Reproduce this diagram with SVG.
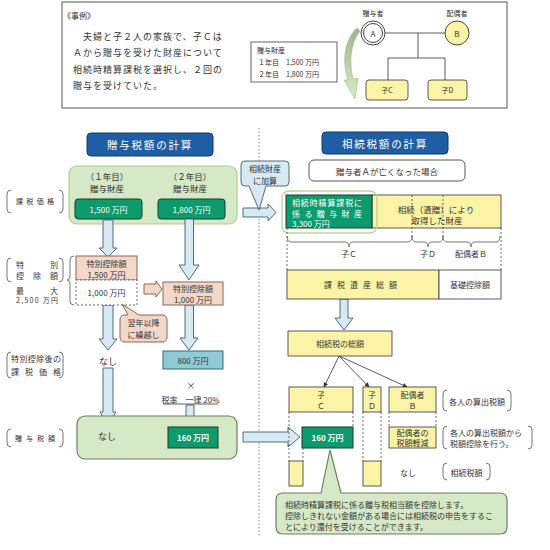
<svg xmlns="http://www.w3.org/2000/svg" width="550" height="550" viewBox="0 0 550 550">
<defs>
<style>
text{font-family:"Noto Sans CJK JP","Noto Sans",sans-serif;fill:#333;dominant-baseline:central}
.t9{font-size:9px}.t8{font-size:8px}.t7{font-size:7px}.t85{font-size:8.5px}
.mid{text-anchor:middle}
.w{fill:#fff}
.b{font-weight:bold}
.dg{fill:#0d9b6d;stroke:#1d3b2d;stroke-width:1}
.lg{fill:#d6e9c6;stroke:#aad08c;stroke-width:1.2}
.lg2{fill:#d6e9c6;stroke:#6f7f64;stroke-width:1.2}
.ba{fill:#d7eaf3;stroke:#3f5d6d;stroke-width:0.9}
.sal{fill:#f3d7c9;stroke:#8a6757;stroke-width:1}
.yel{fill:#fbf3a5;stroke:#333;stroke-width:0.8}
.hdr{fill:#1f5da4;stroke:#0f3a6e;stroke-width:1}
.br{fill:none;stroke:#666;stroke-width:0.9}
.dash{fill:none;stroke:#444;stroke-width:0.8;stroke-dasharray:2 2}
.dot{fill:none;stroke:#888;stroke-width:1;stroke-dasharray:1.5 2}
.ln{fill:none;stroke:#333;stroke-width:0.8}
</style>
<marker id="ah" viewBox="0 0 10 10" refX="9" refY="5" markerWidth="6" markerHeight="6" orient="auto"><path d="M0,0 L10,5 L0,10 Z" fill="#333"/></marker>
<linearGradient id="garr" x1="0" y1="0" x2="0" y2="1"><stop offset="0" stop-color="#9fb394"/><stop offset="1" stop-color="#d8ecc6"/></linearGradient>
</defs>

<!-- Example box -->
<g id="example">
<rect x="62" y="2" width="445" height="106" fill="#fff" stroke="#555" stroke-width="1"/>
<text x="63" y="15" class="t8">《事例》</text>
<text x="83" y="36" class="t9" letter-spacing="1">夫婦と子２人の家族で、子Ｃは</text>
<text x="73" y="52" class="t9" letter-spacing="1">Ａから贈与を受けた財産について</text>
<text x="73" y="69" class="t9" letter-spacing="1">相続時精算課税を選択し、２回の</text>
<text x="73" y="85" class="t9" letter-spacing="1">贈与を受けていた。</text>
</g>
<g id="gift-box">
<rect x="251" y="42" width="86" height="40" fill="#fff" stroke="#555" stroke-width="0.9"/>
<text x="257" y="50" class="t7">贈与財産</text>
<text x="258" y="62" class="t7">１年目　1,500 万円</text>
<text x="258" y="74" class="t7">２年目　1,800 万円</text>
</g>
<g id="family">
<path d="M385,33 H445 M418,33 V58 M388,58 H445 M388,58 V80 M445,58 V80" class="ln"/>
<g id="nodeA"><circle cx="373" cy="33" r="12" fill="#fff" stroke="#444" stroke-width="1"/><circle cx="373" cy="33" r="9.5" fill="#fff" stroke="#444" stroke-width="1"/><text x="373" y="33" class="t8 mid">A</text><text x="373" y="13" class="t7 mid">贈与者</text></g>
<g id="nodeB"><circle cx="457" cy="33" r="12" fill="#fbf3a5" stroke="#444" stroke-width="1"/><text x="457" y="33" class="t8 mid">B</text><text x="457" y="13" class="t7 mid">配偶者</text></g>
<g id="nodeC"><rect x="366" y="80" width="42" height="20" rx="3" class="yel"/><text x="387" y="90" class="t7 mid">子C</text></g>
<g id="nodeD"><rect x="428" y="80" width="39" height="20" rx="3" class="yel"/><text x="447.5" y="90" class="t7 mid">子D</text></g>
<path d="M357,28 C344,40 342,62 348,80 L344,80 L355,99 L358,78 L353,79 C349,62 350,44 360,31 Z" fill="url(#garr)" stroke="#9ab57f" stroke-width="0.6"/>
</g>

<!-- dotted divider -->
<line x1="259" y1="128" x2="259" y2="537" class="dot"/>

<!-- Left side -->
<g id="left-header"><rect x="87" y="133" width="126" height="23" rx="4" class="hdr"/><text x="150" y="144.5" class="mid w" font-size="10.5" letter-spacing="1.8">贈与税額の計算</text></g>

<g id="left-labels">
<path d="M11,190 Q7,190 7,194 V209 Q7,213 11,213 M59,190 Q63,190 63,194 V209 Q63,213 59,213" class="br"/>
<text x="35" y="201" class="t7 mid" textLength="38" lengthAdjust="spacing">課税価格</text>
<path d="M11,258 Q7,258 7,262 V278 Q7,282 11,282 M59,258 Q63,258 63,262 V278 Q63,282 59,282" class="br"/>
<text x="16" y="264" class="t8" textLength="42" lengthAdjust="spacing">特　　別</text>
<text x="16" y="275" class="t8" textLength="42" lengthAdjust="spacing">控除額</text>
<text x="16" y="290" class="t8" textLength="42" lengthAdjust="spacing">最　　　大</text>
<text x="16" y="300" class="t7" textLength="42" lengthAdjust="spacing">2,500 万円</text>
<path d="M11,352 Q7,352 7,356 V374 Q7,378 11,378 M59,352 Q63,352 63,356 V374 Q63,378 59,378" class="br"/>
<text x="11" y="358" class="t8" textLength="50" lengthAdjust="spacing">特別控除後の</text>
<text x="11" y="371" class="t8" textLength="50" lengthAdjust="spacing">課税価格</text>
<path d="M11,429 Q7,429 7,433 V443 Q7,447 11,447 M59,429 Q63,429 63,433 V443 Q63,447 59,447" class="br"/>
<text x="35" y="438" class="t7 mid" textLength="40" lengthAdjust="spacing">贈与税額</text>
<path d="M74,256 Q70,256 70,260 V276 Q70,280 67,280 Q70,280 70,284 V301 Q70,305 74,305" class="br"/>
</g>

<g id="gift-area">
<rect x="69" y="166" width="168" height="58" rx="8" class="lg"/>
<text x="107" y="175.5" class="t85 mid">（１年目）</text>
<text x="107" y="188" class="t85 mid">贈与財産</text>
<text x="190" y="175.5" class="t85 mid">（２年目）</text>
<text x="190" y="188" class="t85 mid">贈与財産</text>
</g>
<g id="box1500"><rect x="75" y="199" width="67" height="20" rx="3" class="dg"/><text x="108.5" y="209" class="t8 mid w">1,500 万円</text></g>
<g id="box1800"><rect x="158" y="199" width="67" height="20" rx="3" class="dg"/><text x="191.5" y="209" class="t8 mid w">1,800 万円</text></g>

<g id="connectors">
<polygon points="103,220 113,220 113,248 117,248 108,257 99,248 103,248" class="ba"/>
<polygon points="185,219 193.5,219 193.5,265 199,265 189,280 179,265 185,265" class="ba"/>
<polygon points="103,305 113,305 113,339 117,339 108,350 99,339 103,339" class="ba"/>
<polygon points="185,305 193.5,305 193.5,338 198,338 189,350 180,338 185,338" class="ba"/>
<polygon points="103,368 113,368 113,412 116,412 108,426 100,412 103,412" class="ba"/>
<polygon points="186,405 194,405 194,417 199,417 190,426 181,417 186,417" class="ba"/>
<polygon points="144,284 156,284 156,281 162,289 156,297 156,294 144,294" class="sal"/>
<polygon points="243,208 268,208 268,204 276,212.5 268,221 268,217 243,217" class="ba"/>
<polygon points="243,432 288,432 288,427 300,437 288,447 288,442 243,442" class="ba"/>
<polygon points="340,299 348,299 348,318 353,318 344,330 335,318 340,318" class="ba"/>
<line x1="339" y1="356" x2="324" y2="387" class="ln" marker-end="url(#ah)"/>
<line x1="339" y1="356" x2="369" y2="387" class="ln" marker-end="url(#ah)"/>
<line x1="339" y1="356" x2="407" y2="387" class="ln" marker-end="url(#ah)"/>
</g>

<g id="sp1500"><rect x="76" y="256" width="61" height="24" class="sal"/><text x="106.5" y="263" class="t8 mid">特別控除額</text><text x="106.5" y="274" class="t8 mid">1,500 万円</text></g>
<g id="carry1000"><rect x="76" y="280" width="61" height="25" fill="#fff" stroke="#444" stroke-width="0.8" stroke-dasharray="2 2"/><text x="106.5" y="292.5" class="t8 mid">1,000 万円</text></g>
<g id="sp1000"><rect x="163" y="282" width="60" height="23" class="sal"/><text x="193" y="288.5" class="t8 mid">特別控除額</text><text x="193" y="299" class="t8 mid">1,000 万円</text></g>
<g id="carry-note">
<path d="M125,315 H128 L122,304 L139,315 H162 Q167,315 167,320 V337 Q167,342 162,342 H125 Q120,342 120,337 V320 Q120,315 125,315 Z" class="sal"/>
<text x="143.5" y="322" class="t8 mid">翌年以降</text>
<text x="143.5" y="334" class="t8 mid">に繰越し</text>
</g>
<g id="none1"><text x="108" y="361" class="t9 mid">なし</text></g>
<g id="box800"><rect x="163" y="351" width="60" height="18" fill="#8fcbd6" stroke="#2d5a66" stroke-width="0.9"/><text x="193" y="360" class="t8 mid">800 万円</text></g>
<g id="rate"><text x="191" y="385" class="t9 mid">×</text><text x="190.5" y="399" class="t8 mid">税率　一律 20%</text><line x1="163" y1="404" x2="218" y2="404" class="ln"/></g>

<g id="gift-tax"><rect x="77" y="416" width="160" height="43" rx="8" class="lg2"/><text x="107" y="436" class="t9 mid">なし</text></g>
<g id="box160"><rect x="168" y="427" width="50" height="21" class="dg" stroke="#7a9"/><text x="193" y="437.5" class="t8 mid w b">160 万円</text></g>

<g id="add-note">
<path d="M245,161 H285 Q289,161 289,165 V182 Q289,186 285,186 H266 L259,210 L249,186 H245 Q241,186 241,182 V165 Q241,161 245,161 Z" class="ba"/>
<text x="265" y="168" class="t8 mid">相続財産</text>
<text x="265" y="180" class="t8 mid">に加算</text>
</g>

<!-- Right side -->
<g id="right-header"><rect x="322" y="132" width="126" height="22" rx="4" class="hdr"/><text x="385" y="143" class="mid w" font-size="10.5" letter-spacing="1.8">相続税額の計算</text></g>
<g id="case"><rect x="309" y="160" width="156" height="21" rx="5" fill="#fff" stroke="#444" stroke-width="0.9"/><text x="387" y="170.5" class="t85 mid">贈与者Ａが亡くなった場合</text></g>

<g id="estate-row">
<rect x="372" y="195" width="129" height="33" class="yel"/>
<rect x="286" y="195" width="86" height="33" class="dg" stroke="#1d3b2d"/>
<rect x="282" y="191" width="95" height="42" rx="7" fill="none" stroke="#b6d69c" stroke-width="1.3"/>
<text x="292" y="202.5" class="t8 w" textLength="70" lengthAdjust="spacing">相続時精算課税に</text>
<text x="292" y="213" class="t8 w" textLength="70" lengthAdjust="spacing">係る贈与財産</text>
<text x="292" y="223" class="t8 w">3,300 万円</text>
<line x1="412" y1="195" x2="412" y2="237" class="dash"/>
<line x1="443" y1="195" x2="443" y2="237" class="dash"/>
<text x="436" y="209" class="t85 mid">相続（遺贈）により</text>
<text x="437" y="220" class="t85 mid">取得した財産</text>
<path d="M287,236 Q287,242 292,242 L345,242 Q349,242 349,247 Q349,242 353,242 L407,242 Q412,242 412,236" class="br"/>
<path d="M412,236 Q412,242 416,242 L424,242 Q428,242 428,247 Q428,242 432,242 L439,242 Q443,242 443,236" class="br"/>
<path d="M443,236 Q443,242 447,242 L467,242 Q471,242 471,247 Q471,242 475,242 L496,242 Q500,242 500,236" class="br"/>
<text x="349" y="253" class="t8 mid">子Ｃ</text>
<text x="428" y="253" class="t8 mid">子Ｄ</text>
<text x="471" y="253" class="t8 mid">配偶者Ｂ</text>
<line x1="287" y1="228" x2="287" y2="270" class="dash"/>
<line x1="501" y1="228" x2="501" y2="270" class="dash"/>
</g>

<g id="taxable-row">
<rect x="287" y="270" width="152" height="29" class="yel"/>
<rect x="439" y="270" width="62" height="29" fill="#fff" stroke="#333" stroke-width="0.8"/>
<text x="363" y="284.5" class="t8 mid" letter-spacing="5">課税遺産総額</text>
<text x="470" y="284.5" class="t8 mid">基礎控除額</text>
</g>
<g id="total-tax"><rect x="288" y="331" width="104" height="25" class="yel"/><text x="340" y="343.5" class="t8 mid">相続税の総額</text></g>

<g id="heirC"><rect x="289" y="387" width="64" height="25" class="yel"/><text x="321" y="394" class="t8 mid">子</text><text x="321" y="405" class="t8 mid">Ｃ</text></g>
<g id="heirD"><rect x="363" y="387" width="18" height="25" class="yel"/><text x="372" y="394" class="t8 mid">子</text><text x="372" y="405" class="t8 mid">Ｄ</text></g>
<g id="heirB"><rect x="389" y="387" width="47" height="25" class="yel"/><text x="412.5" y="394" class="t8 mid">配偶者</text><text x="412.5" y="405" class="t8 mid">Ｂ</text></g>

<g id="dash-guides">
<line x1="289" y1="412" x2="289" y2="461" class="dash"/>
<line x1="353" y1="412" x2="353" y2="427" class="dash"/>
<line x1="303" y1="448" x2="303" y2="461" class="dash"/>
<line x1="363" y1="412" x2="363" y2="461" class="dash"/>
<line x1="381" y1="412" x2="381" y2="461" class="dash"/>
<line x1="389" y1="412" x2="389" y2="427" class="dash"/>
<line x1="436" y1="412" x2="436" y2="427" class="dash"/>
</g>
<g id="credit160"><rect x="302" y="427" width="51" height="21" class="dg" stroke="#1d3b2d"/><text x="327.5" y="437.5" class="t8 mid w b">160 万円</text></g>
<g id="spouse-relief"><rect x="389" y="427" width="47" height="21" class="yel"/><text x="412.5" y="432.5" class="t8 mid">配偶者の</text><text x="412.5" y="442.5" class="t8 mid">税額軽減</text></g>
<g id="remC"><rect x="289" y="461" width="14" height="25" class="yel"/></g>
<g id="remD"><rect x="363" y="461" width="18" height="25" class="yel"/></g>
<g id="none2"><text x="408" y="472" class="t8 mid">なし</text></g>

<g id="right-labels">
<path d="M447,390 Q443,390 443,394 V407 Q443,411 447,411 M507,390 Q511,390 511,394 V407 Q511,411 507,411" class="br"/>
<text x="477" y="401" class="t8 mid">各人の算出税額</text>
<path d="M447,426 Q443,426 443,430 V445 Q443,449 447,449 M528,426 Q532,426 532,430 V445 Q532,449 528,449" class="br"/>
<text x="450" y="432.5" class="t8">各人の算出税額から</text>
<text x="450" y="443" class="t8">税額控除を行う。</text>
<path d="M447,463 Q443,463 443,467 V476 Q443,480 447,480 M486,463 Q490,463 490,467 V476 Q490,480 486,480" class="br"/>
<text x="466.5" y="472" class="t8 mid">相続税額</text>
</g>

<g id="bottom-note">
<path d="M283,493 H321 L330,450 L341,493 H500 Q507,493 507,500 V527 Q507,534 500,534 H283 Q276,534 276,527 V500 Q276,493 283,493 Z" class="lg2"/>
<text x="285" y="504" class="t8">相続時精算課税に係る贈与税相当額を控除します。</text>
<text x="285" y="515" class="t8">控除しきれない金額がある場合には相続税の申告をするこ</text>
<text x="285" y="526" class="t8">とにより還付を受けることができます。</text>
</g>
</svg>
